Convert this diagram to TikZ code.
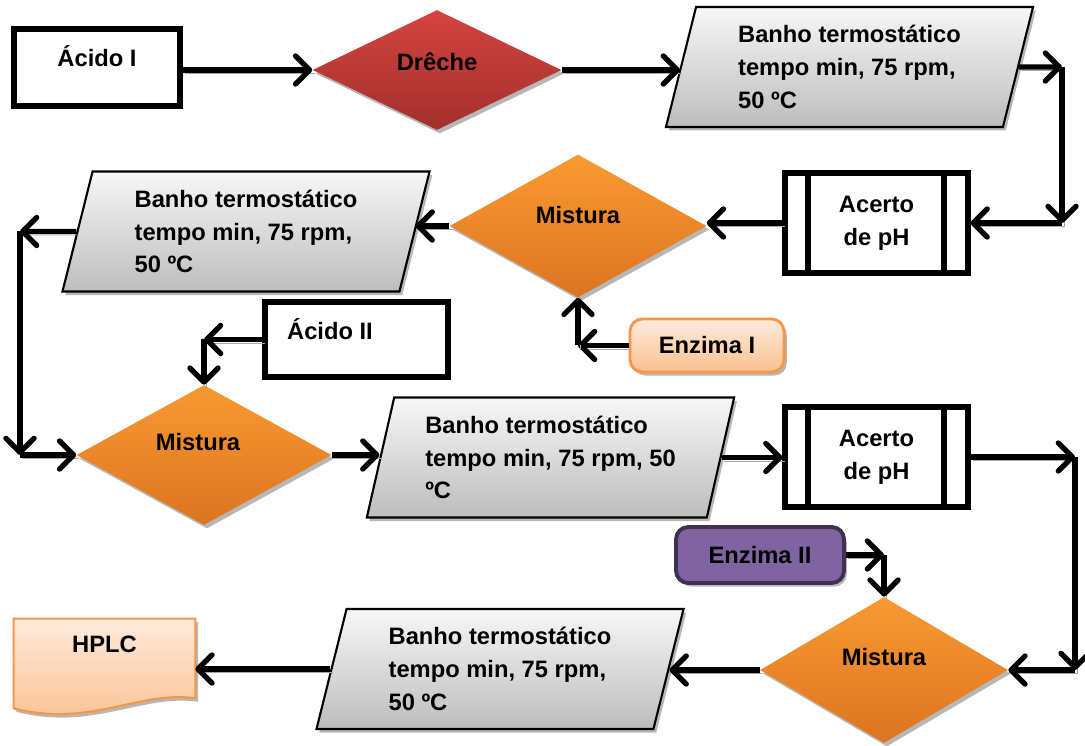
\documentclass[tikz,border=0pt]{standalone}
\usepackage{fontspec}
\setmainfont{Liberation Sans}
\usetikzlibrary{shapes.geometric,arrows.meta,shadows,calc,backgrounds}

\definecolor{dredtop}{HTML}{D4443F}
\definecolor{dredbot}{HTML}{A2302D}
\definecolor{mixtop}{HTML}{F99A32}
\definecolor{mixbot}{HTML}{DC7421}
\definecolor{bathtop}{HTML}{F7F7F7}
\definecolor{bathbot}{HTML}{BDBDBD}
\definecolor{peachtop}{HTML}{FDEBDD}
\definecolor{peachbot}{HTML}{FAC08F}
\definecolor{peachline}{HTML}{F79646}
\definecolor{purfill}{HTML}{8064A2}
\definecolor{purline}{HTML}{3F3151}

\begin{document}
\begin{tikzpicture}[x=0.02cm,y=-0.02cm,
  every node/.style={font=\bfseries\fontsize{13.5}{18.7}\selectfont},
  softshadow/.style={drop shadow={shadow xshift=1.6pt,shadow yshift=-2pt,fill=black!40,opacity=.7}},
  acidbox/.style={draw,line width=3pt,minimum width=3.32cm,minimum height=1.54cm},
  mixdia/.style={diamond,top color=mixtop,bottom color=mixbot,softshadow,inner sep=0pt},
  bath/.style={trapezium,trapezium left angle=76,trapezium right angle=104,trapezium stretches=true,
    draw,line width=1.2pt,top color=bathtop,bottom color=bathbot,softshadow,
    minimum width=7.36cm,minimum height=2.4cm,align=left,inner sep=2pt},
  phbox/.style={draw,line width=2.9pt,minimum width=3.66cm,minimum height=2cm,align=center,
    path picture={\draw[line width=2.9pt]
      ([xshift=0.46cm]path picture bounding box.north west) -- ([xshift=0.46cm]path picture bounding box.south west)
      ([xshift=-0.48cm]path picture bounding box.north east) -- ([xshift=-0.48cm]path picture bounding box.south east);}},
  enzbox/.style={draw,rounded corners=7pt,softshadow,line width=1.6pt},
  docline/.style={draw=peachline,line width=1.2pt,top color=peachtop,bottom color=peachbot,softshadow},
  flow/.style={line width=3pt,-{Straight Barb[length=8pt,width=16pt,line width=3pt,round]},
    preaction={draw=black!35,-,transform canvas={shift={(1.4pt,-2pt)}}}}
]
\useasboundingbox (0,0) rectangle (1085,746);

% first row
\node[acidbox,label={[yshift=0.23cm]center:Ácido I}] (acid1) at (97,67.5) {};
\node[diamond,top color=dredtop,bottom color=dredbot,softshadow,inner sep=0pt,
  minimum width=4.98cm,minimum height=2.4cm,label={[yshift=0.16cm]center:Drêche}] (dreche) at (437,70) {};
\node[bath] (ban1) at (849.5,67) {Banho termostático\\tempo min, 75 rpm,\\50 ºC};

% second row
\node[phbox] (ph1) at (876.5,223) {Acerto\\de pH};
\node[mixdia,minimum width=5.14cm,minimum height=2.86cm,label={[yshift=0.22cm]center:Mistura}] (mix1) at (578,226) {};
\node[bath] (ban2) at (246,231.5) {Banho termostático\\tempo min, 75 rpm,\\50 ºC};
\node[enzbox,draw=peachline,top color=peachtop,bottom color=peachbot,
  minimum width=3.08cm,minimum height=1.06cm] (enz1) at (707,345.5) {Enzima I};
\node[acidbox,minimum width=3.66cm,minimum height=1.5cm,
  label={[xshift=-0.53cm,yshift=0.21cm]center:Ácido II}] (acid2) at (356.5,339.5) {};

% third row
\node[mixdia,minimum width=5.1cm,minimum height=2.8cm,
  label={[xshift=-0.12cm,yshift=0.26cm]center:Mistura}] (mix2) at (204,455) {};
\node[bath] (ban3) at (550.5,457.5) {Banho termostático\\tempo min, 75 rpm, 50\\ºC};
\node[phbox] (ph2) at (876.5,457) {Acerto\\de pH};
\node[enzbox,fill=purfill,draw=purline,line width=2.2pt,
  minimum width=3.36cm,minimum height=1.12cm] (enz2) at (760,555) {Enzima II};

% last row
\node[mixdia,minimum width=4.96cm,minimum height=2.92cm,
  label={[yshift=0.26cm]center:Mistura}] (mix3) at (884,670) {};
\node[bath] (ban4) at (500,669) {Banho termostático\\tempo min, 75 rpm,\\50 ºC};
\node[minimum width=3.62cm,minimum height=1.78cm,inner sep=0pt,
  label={[yshift=0.39cm]center:HPLC}] (hplc) at (104.5,663.5) {};
\begin{scope}[on background layer]
\path[docline] (hplc.north west) -- (hplc.north east) -- ([yshift=0.2cm]hplc.south east)
  .. controls (140,690) and (90,728) .. (hplc.south west) -- cycle;
\end{scope}

% connectors
\draw[flow] (acid1.east |- dreche.west) -- (dreche.west);
\draw[flow] (dreche.east) -- (dreche.east -| ban1.west);
\coordinate (k1) at (1062,67);
\draw[flow] (ban1.east) -- (k1);
\draw[flow] (k1) -- (k1 |- ph1.east);
\draw[flow] (k1 |- ph1.east) -- (ph1.east);
\draw[flow] (ph1.west) -- (ph1.west -| mix1.east);
\draw[flow] (mix1.west) -- (mix1.west -| ban2.east);
\coordinate (k2) at (20,231.5);
\draw[flow] (ban2.west) -- (k2);
\draw[flow] (k2) -- (k2 |- mix2.west);
\draw[flow] (k2 |- mix2.west) -- (mix2.west);
\coordinate (k3) at (mix2.north |- acid2.west);
\draw[flow] (acid2.west) -- (k3);
\draw[flow] (k3) -- (mix2.north);
\coordinate (k4) at (mix1.south |- enz1.west);
\draw[flow] (enz1.west) -- (k4);
\draw[flow] (k4) -- (mix1.south);
\draw[flow] (mix2.east) -- (mix2.east -| ban3.west);
\draw[flow] (ban3.east) -- (ban3.east -| ph2.west);
\coordinate (k5) at (1075,457);
\draw[flow] (ph2.east) -- (k5);
\draw[flow] (k5) -- (k5 |- mix3.east);
\draw[flow] (k5 |- mix3.east) -- (mix3.east);
\coordinate (k6) at (mix3.north |- enz2.east);
\draw[flow] (enz2.east) -- (k6);
\draw[flow] (k6) -- (mix3.north);
\draw[flow] (mix3.west) -- (mix3.west -| ban4.east);
\draw[flow] (ban4.west) -- (ban4.west -| hplc.east);
\end{tikzpicture}
\end{document}
